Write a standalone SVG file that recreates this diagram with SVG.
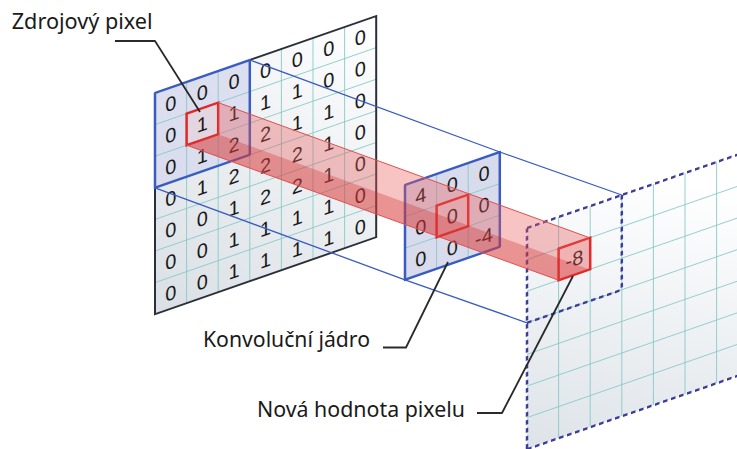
<svg xmlns="http://www.w3.org/2000/svg" width="737" height="449" viewBox="0 0 737 449">
<defs>
<linearGradient id="gPlane" x1="1" y1="0" x2="0" y2="1">
<stop offset="0" stop-color="#ffffff"/>
<stop offset="1" stop-color="#d9dfe4"/>
</linearGradient>
<linearGradient id="gOut" x1="0.6" y1="0" x2="0" y2="1">
<stop offset="0" stop-color="#ffffff"/>
<stop offset="1" stop-color="#dde3e8"/>
</linearGradient>
</defs>
<style>
.grid{stroke:#86c8c8;stroke-width:0.8;fill:none}
.d{font-family:"Liberation Sans",Arial,sans-serif;font-size:20px;fill:#1a1a1a;text-anchor:middle}
.blue{stroke:#3a5cc0;stroke-width:2.5;fill:none;stroke-linejoin:round}
.dark{stroke:#2b2f3a;stroke-width:2;fill:none}
.dash{stroke:#3d3d99;stroke-width:2.5;stroke-dasharray:4.5 3.5;fill:none}
.red{stroke:#e02828;stroke-width:2.5;fill:#f6c9c9;fill-opacity:0.35}
.proj{stroke:#3a5cc0;stroke-width:1.3;fill:none}
.call{stroke:#2a2a2a;stroke-width:1.8;fill:none;stroke-linejoin:round}
.lbl{font-family:"Noto Sans","Open Sans",sans-serif;font-size:22px;fill:#1a1a1a}
</style>
<rect width="737" height="449" fill="#ffffff"/>

<g id="output" transform="matrix(1,-0.348,0,1,527,228)">
<rect x="0" y="0" width="240" height="221.2" fill="url(#gOut)"/>
<path class="grid" d="M31.6 0V221.2M63.2 0V221.2M94.8 0V221.2M126.4 0V221.2M158 0V221.2M189.6 0V221.2M221.2 0V221.2M0 31.6H240M0 63.2H240M0 94.8H240M0 126.4H240M0 158H240M0 189.6H240"/>
<path class="dash" d="M0 0H240M0 0V221.2M0 221.2H240M94.8 0V94.8M0 94.8H94.8"/>
<rect class="red" x="31.6" y="31.6" width="31.6" height="31.6" fill="#fff0f0" fill-opacity="1"/>
<text class="d" x="47.4" y="54.5">-8</text>
</g>

<g id="source" transform="matrix(1,-0.348,0,1,155,93)">
<rect x="0" y="0" width="221.2" height="221.2" fill="url(#gPlane)"/>
<rect x="0" y="0" width="94.8" height="94.8" fill="#d6d9ee" fill-opacity="0.8"/>
<path class="grid" d="M31.6 0V221.2M63.2 0V221.2M94.8 0V221.2M126.4 0V221.2M158 0V221.2M189.6 0V221.2M0 31.6H221.2M0 63.2H221.2M0 94.8H221.2M0 126.4H221.2M0 158H221.2M0 189.6H221.2"/>
<path class="dark" d="M94.8 0H221.2V221.2H0V94.8"/>
<rect class="blue" x="0" y="0" width="94.8" height="94.8"/>
<rect class="red" x="31.6" y="31.6" width="31.6" height="31.6"/>
<text class="d" x="15.8 47.4 79 110.6 142.2 173.8 205.4" y="23">0000000</text>
<text class="d" x="15.8 47.4 79 110.6 142.2 173.8 205.4" y="54.6">0111100</text>
<text class="d" x="15.8 47.4 79 110.6 142.2 173.8 205.4" y="86.2">0122110</text>
<text class="d" x="15.8 47.4 79 110.6 142.2 173.8 205.4" y="117.8">0122210</text>
<text class="d" x="15.8 47.4 79 110.6 142.2 173.8 205.4" y="149.4">0012210</text>
<text class="d" x="15.8 47.4 79 110.6 142.2 173.8 205.4" y="181">0011110</text>
<text class="d" x="15.8 47.4 79 110.6 142.2 173.8 205.4" y="212.6">0011110</text>
</g>

<g id="kernel" transform="matrix(1,-0.348,0,1,405,185)">
<rect x="0" y="0" width="94.8" height="94.8" fill="#d8dbec"/>
<path class="grid" d="M31.6 0V94.8M63.2 0V94.8M0 31.6H94.8M0 63.2H94.8"/>
<rect class="blue" x="0" y="0" width="94.8" height="94.8"/>
<rect class="red" x="31.6" y="31.6" width="31.6" height="31.6"/>
<text class="d" x="15.8 47.4 79" y="23">400</text>
<text class="d" x="15.8 47.4 79" y="54.6">000</text>
<text class="d" x="15.8 47.4" y="86.2">00</text>
<text class="d" x="79" y="86.2">-4</text>
</g>

<g id="connectors">
<path class="proj" d="M249.8 60L499.8 152L621.8 195M155 187.8L405 279.8L527 322.8"/>
<g id="beam">
<polygon points="218.2,102.6 589.2,237.6 589.2,269.2 218.2,134.2" fill="#e85a5a" fill-opacity="0.36"/>
<polygon points="218.2,134.2 589.2,269.2 558.6,280.2 186.6,145.2" fill="#d93a3a" fill-opacity="0.55"/>
<path d="M218.2 102.6L589.2 237.6M186.6 145.2L558.6 280.2" stroke="#e05050" stroke-width="1" fill="none"/>
</g>
<polyline class="call" points="115,41 155,41 200,112"/>
<polyline class="call" points="383,347.5 406,347.5 448,262"/>
<polyline class="call" points="477,413 502,413 573,276"/>
</g>

<g id="labels">
<text class="lbl" x="11.7" y="29.3" textLength="141" lengthAdjust="spacingAndGlyphs">Zdrojový pixel</text>
<text class="lbl" x="203" y="346.5" textLength="167" lengthAdjust="spacingAndGlyphs">Konvoluční jádro</text>
<text class="lbl" x="257" y="416.5" textLength="208" lengthAdjust="spacingAndGlyphs">Nová hodnota pixelu</text>
</g>
</svg>
